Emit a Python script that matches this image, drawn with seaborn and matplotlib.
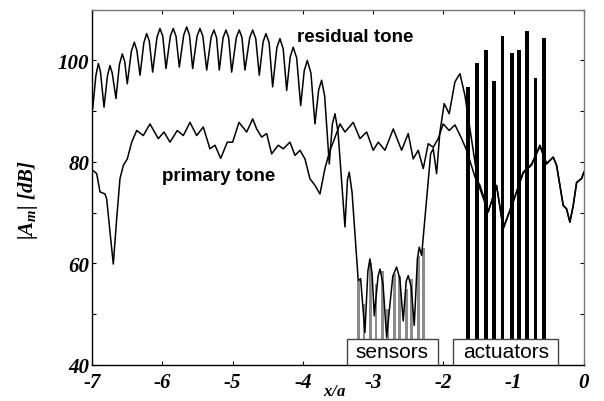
import numpy as np
import matplotlib
matplotlib.use('Agg')
import matplotlib.pyplot as plt
from matplotlib.patches import Rectangle
from matplotlib.ticker import MultipleLocator
import seaborn as sns

# ---------------- data ----------------
res_x = [-6.990, -6.945, -6.910, -6.880, -6.829, -6.780, -6.744, -6.712, -6.659, -6.610,
         -6.569, -6.535, -6.498, -6.440, -6.398, -6.362, -6.317, -6.262, -6.222, -6.185,
         -6.137, -6.075, -6.033, -5.993, -5.947, -5.885, -5.844, -5.805, -5.758, -5.695,
         -5.653, -5.613, -5.568, -5.505, -5.464, -5.423, -5.368, -5.305, -5.265, -5.228,
         -5.189, -5.135, -5.094, -5.056, -5.013, -4.947, -4.905, -4.866, -4.824, -4.756,
         -4.714, -4.670, -4.620, -4.565, -4.525, -4.480, -4.430, -4.370, -4.326, -4.280,
         -4.230, -4.180, -4.137, -4.088, -4.031, -3.980, -3.937, -3.885, -3.828, -3.775,
         -3.733, -3.690, -3.624, -3.580, -3.543, -3.500, -3.401, -3.365, -3.340, -3.300,
         -3.212, -3.178, -3.117, -3.075, -3.046, -3.015, -2.984, -2.930, -2.903, -2.860,
         -2.808, -2.720, -2.666, -2.620, -2.572, -2.530, -2.501, -2.460, -2.415, -2.370,
         -2.344, -2.310, -2.239, -2.182, -2.145, -2.097, -2.050, -1.989, -1.918, -1.836,
         -1.765, -1.694, -1.505, -1.363, -1.243, -1.149, -1.007, -0.865, -0.745, -0.627,
         -0.532, -0.438, -0.390, -0.296, -0.248, -0.201, -0.154, -0.105, -0.034, 0.0]
res_y = [90.5, 97.0, 99.4, 97.8, 90.8, 97.0, 99.0, 97.5, 92.5, 99.2,
         101.3, 99.8, 95.4, 101.8, 103.6, 102.0, 97.1, 103.5, 105.3, 103.8,
         97.7, 104.6, 106.3, 104.8, 98.4, 104.8, 106.3, 104.8, 98.7, 105.0,
         106.6, 105.0, 98.4, 104.8, 106.3, 104.8, 98.1, 104.6, 106.0, 104.5,
         98.1, 104.5, 106.0, 104.5, 97.7, 104.5, 106.0, 104.5, 98.1, 104.5,
         106.0, 104.3, 97.1, 103.7, 105.3, 103.5, 94.8, 102.5, 104.3, 102.3,
         94.1, 100.7, 102.6, 100.5, 91.1, 98.0, 100.0, 97.5, 87.5, 94.2,
         96.1, 93.0, 79.6, 87.5, 89.5, 86.0, 67.2, 76.5, 78.0, 74.0,
         56.6, 57.0, 46.4, 58.5, 60.9, 58.0, 49.7, 57.5, 58.9, 56.0,
         45.5, 57.5, 59.3, 57.0, 48.7, 56.5, 57.6, 55.5, 47.8, 61.0,
         63.2, 61.6, 72.7, 81.6, 82.6, 77.7, 85.9, 91.5, 89.5, 95.8,
         97.4, 93.1, 75.7, 70.1, 75.4, 66.8, 72.1, 78.0, 79.6, 83.3,
         79.6, 81.0, 79.3, 71.4, 70.8, 68.1, 71.4, 76.0, 76.7, 78.0]

pri_x = [-6.982, -6.933, -6.886, -6.815, -6.791, -6.744, -6.697, -6.649, -6.602, -6.555,
         -6.498, -6.435, -6.364, -6.270, -6.175, -6.057, -5.976, -5.890, -5.787, -5.701,
         -5.606, -5.511, -5.417, -5.322, -5.250, -5.169, -5.075, -4.999, -4.909, -4.799,
         -4.714, -4.657, -4.586, -4.515, -4.444, -4.350, -4.279, -4.184, -4.112, -4.041,
         -3.970, -3.899, -3.828, -3.757, -3.686, -3.615, -3.568, -3.472, -3.401, -3.283,
         -3.188, -3.092, -2.999, -2.927, -2.832, -2.714, -2.595, -2.501, -2.430, -2.359,
         -2.287, -2.216, -2.145, -2.074, -2.003, -1.918, -1.836, -1.741, -1.670, -1.550,
         -1.480, -1.363, -1.243, -1.149, -1.007, -0.865, -0.745, -0.627, -0.532, -0.438,
         -0.390, -0.296, -0.248, -0.201, -0.154, -0.105, -0.034, 0.0]
pri_y = [78.3, 77.7, 74.1, 73.7, 72.7, 66.2, 59.9, 68.8, 76.7, 79.3,
         80.6, 83.9, 86.2, 85.2, 87.5, 84.6, 85.9, 83.9, 86.2, 85.2,
         87.8, 85.2, 86.9, 82.6, 83.3, 80.7, 83.9, 83.9, 87.8, 85.9,
         88.5, 86.5, 84.9, 85.6, 81.6, 83.3, 82.6, 83.9, 81.3, 82.3,
         80.6, 76.7, 75.4, 73.7, 78.7, 82.3, 83.9, 87.5, 85.9, 87.8,
         84.6, 85.9, 82.3, 83.9, 82.3, 86.5, 82.3, 85.6, 80.6, 82.3,
         78.7, 83.6, 82.9, 84.6, 87.5, 86.2, 87.3, 84.6, 82.3, 77.0,
         75.4, 70.3, 75.2, 67.0, 72.3, 77.8, 79.4, 83.1, 79.7, 80.9,
         79.4, 71.5, 70.7, 68.2, 71.3, 75.9, 76.8, 78.1]

act_x = [-1.65, -1.52, -1.40, -1.28, -1.16, -1.03, -0.92, -0.81, -0.69, -0.57]
act_h = [94.8, 99.5, 102.1, 96.0, 104.8, 101.5, 102.0, 105.8, 96.6, 104.4]

sen_x = [-3.21, -3.13, -3.04, -2.96, -2.87, -2.79, -2.70, -2.62, -2.53, -2.45, -2.36, -2.28]
sen_h = [56.5, 52.0, 60.0, 56.0, 58.5, 51.0, 58.0, 57.5, 55.0, 57.0, 61.5, 63.0]

x_ticks = [-7, -6, -5, -4, -3, -2, -1, 0]
x_tick_labels = ['-7', '-6', '-5', '-4', '-3', '-2', '-1', '0']
y_ticks = [40, 60, 80, 100]
y_tick_labels = ['40', '60', '80', '100']

# ---------------- style ----------------
sns.set_theme(style='ticks')
plt.rcParams.update({
    'font.family': ['Liberation Serif', 'DejaVu Serif'],
    'axes.unicode_minus': False,
    'mathtext.fontset': 'custom',
    'mathtext.it': 'Liberation Serif:italic:bold',
    'mathtext.rm': 'Liberation Serif:italic:bold',
    'mathtext.bf': 'Liberation Serif:italic:bold',
})

fig = plt.figure(figsize=(6.04, 4.02), dpi=100)
fig.patch.set_facecolor('white')
ax = fig.add_axes([92 / 604, 36 / 402, 492 / 604, 355.3 / 402])
ax.set_facecolor('white')

# sensors (gray) and actuators (black) bars
ax.bar(sen_x, np.array(sen_h) - 40, bottom=40, width=0.04, color='#8c8c8c',
       edgecolor='none', zorder=2)
ax.bar(act_x, np.array(act_h) - 40, bottom=40, width=0.055, color='black',
       edgecolor='none', zorder=2)

# curves
sns.lineplot(x=res_x, y=res_y, ax=ax, color='black', linewidth=1.1,
             estimator=None, sort=False, zorder=3)
sns.lineplot(x=pri_x, y=pri_y, ax=ax, color='black', linewidth=1.1,
             estimator=None, sort=False, zorder=3)

ax.set_xlim(-7, 0)
ax.set_ylim(40, 110)
ax.set_xticks(x_ticks)
ax.set_xticklabels(x_tick_labels)
ax.set_yticks(y_ticks)
ax.set_yticklabels(y_tick_labels)
ax.yaxis.set_minor_locator(MultipleLocator(10))
ax.tick_params(which='both', direction='in', top=True, right=True,
               length=3, width=0.8, color='black')
ax.tick_params(axis='x', which='minor', bottom=False, top=False)
ax.tick_params(axis='x', pad=5)
ax.tick_params(axis='y', pad=2)
for lab in ax.get_xticklabels() + ax.get_yticklabels():
    lab.set_fontfamily('Liberation Serif')
    lab.set_fontstyle('italic')
    lab.set_fontweight('bold')
    lab.set_fontsize(15)
    lab.set_color('black')

for s in ['left', 'bottom']:
    ax.spines[s].set_color('black')
    ax.spines[s].set_linewidth(1.0)
for s in ['top', 'right']:
    ax.spines[s].set_color('#777777')
    ax.spines[s].set_linewidth(1.0)

ax.set_ylabel(r'$|A_m|\ [dB]$', fontsize=15, color='black')
ax.yaxis.set_label_coords(-0.106, 0.467)
fig.text(335 / 604, 0.016, r'$x/a$', fontsize=12, ha='center', va='baseline',
         color='black')

# annotations
ax.text(-4.08, 103.9, 'residual tone', fontsize=13.5, fontweight='bold',
        family='Liberation Sans', ha='left', va='baseline', color='black', zorder=6)
ax.text(-6.0, 76.5, 'primary tone', fontsize=13.5, fontweight='bold',
        family='Liberation Sans', ha='left', va='baseline', color='black', zorder=6)

ax.add_patch(Rectangle((-3.377, 40), 1.303, 5.1, facecolor='white',
                       edgecolor='#444444', linewidth=1.0, zorder=5))
ax.text(-2.7255, 41.5, 'sensors', fontsize=15, family='Liberation Sans',
        ha='center', va='baseline', color='black', zorder=6)
ax.add_patch(Rectangle((-1.86, 40), 1.493, 5.1, facecolor='white',
                       edgecolor='#444444', linewidth=1.0, zorder=5))
ax.text(-1.1135, 41.5, 'actuators', fontsize=15, family='Liberation Sans',
        ha='center', va='baseline', color='black', zorder=6)

fig.savefig('out.png', dpi=100, facecolor='white')
